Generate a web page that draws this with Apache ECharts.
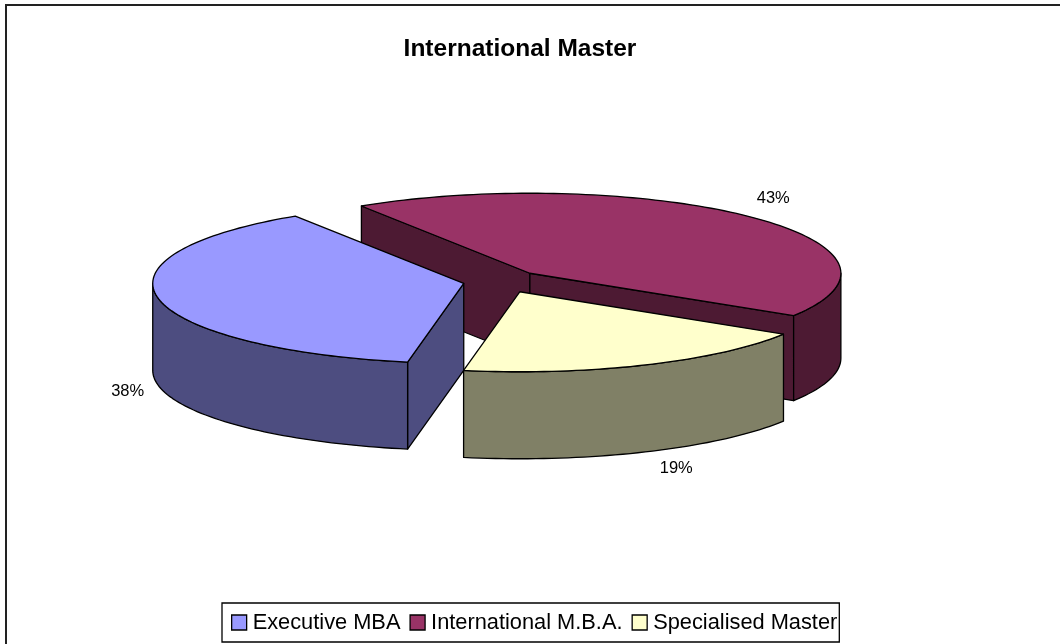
<!DOCTYPE html>
<html>
<head>
<meta charset="utf-8">
<style>html,body{margin:0;padding:0;background:#fff}#c{width:1060px;height:644px}</style>
<script src="https://cdn.jsdelivr.net/npm/echarts@6/dist/echarts.min.js"></script>
</head>
<body>
<div id="c"></div>
<script>
// ---- data ----
const categories = ['Executive MBA', 'International M.B.A.', 'Specialised Master'];
const shares = [38, 43, 19];
const chartTitle = 'International Master';

// ---- styles / layout ----
const topColors = ['#9999FF', '#993366', '#FFFFCC'];
const sideColors = ['#4D4D80', '#4D1A33', '#808066'];
const FONT = '"Liberation Sans", Arial, sans-serif';
const pie = {cx: 501.5, cy: 280.5, rx: 311, ry: 80, explodeX: 39, explodeY: 12.3, startDeg: 122.8};
const sliceDepth = [87, 85, 87];
const sliceNudge = [[0.5, 0.5], [1, 1.5], [2.5, 0]];
const labelNudge = [[-31, 5.5], [25, -18], [31, 17]];
const drawOrder = [1, 0, 2];

const total = shares.reduce((a, b) => a + b, 0);
const sweep = [];
(function () {
  // slices run clockwise from International M.B.A., then Specialised, then Executive
  let a = pie.startDeg;
  [1, 2, 0].forEach(i => {
    const s = shares[i] / total * 360;
    sweep[i] = [a, a - s];
    a -= s;
  });
})();

const rad = d => d * Math.PI / 180;

function sliceShapes(i) {
  const [a0, a1] = sweep[i];
  const depth = sliceDepth[i];
  const mid = rad((a0 + a1) / 2);
  const ax = pie.cx + pie.explodeX * Math.cos(mid) + sliceNudge[i][0];
  const ay = pie.cy - pie.explodeY * Math.sin(mid) + sliceNudge[i][1];
  const pt = (deg, dz) => [ax + pie.rx * Math.cos(rad(deg)), ay - pie.ry * Math.sin(rad(deg)) + (dz || 0)];
  const arc = (from, to, dz) => {
    const n = Math.max(2, Math.ceil(Math.abs(from - to) / 1.5));
    const out = [];
    for (let k = 0; k <= n; k++) out.push(pt(from + (to - from) * k / n, dz));
    return out;
  };
  const apex = [ax, ay];
  const midPt = pt((a0 + a1) / 2);
  const children = [];
  const poly = (points, fill) => children.push({
    type: 'polygon', shape: {points},
    style: {fill, stroke: '#000', lineWidth: 1.3, lineJoin: 'round'}
  });
  // radial walls that face the viewer
  [a0, a1].forEach(deg => {
    const p = pt(deg);
    const ex = p[0] - ax, ey = p[1] - ay;
    const crossMid = ex * (midPt[1] - ay) - ey * (midPt[0] - ax);
    if (crossMid * ex < 0) {
      poly([apex, p, [p[0], p[1] + depth], [ax, ay + depth]], sideColors[i]);
    }
  });
  // outer rim, only the front half of the ellipse is visible
  const from = Math.min(a0, 0), to = Math.max(a1, -180);
  if (from > to) {
    poly(arc(from, to, 0).concat(arc(to, from, depth)), sideColors[i]);
  }
  // top face
  poly([apex].concat(arc(a0, a1, 0)), topColors[i]);
  // percentage label
  const anchor = midPt.slice();
  if (Math.sin(mid) < 0) anchor[1] += depth;
  children.push({
    type: 'text',
    style: {
      x: anchor[0] + labelNudge[i][0], y: anchor[1] + labelNudge[i][1],
      text: Math.round(shares[i] / total * 100) + '%',
      font: '16.5px ' + FONT, fill: '#000', align: 'center', verticalAlign: 'middle'
    }
  });
  return {type: 'group', children};
}

const chart = echarts.init(document.getElementById('c'), null, {renderer: 'canvas'});
chart.setOption({
  animation: false,
  backgroundColor: '#fff',
  title: {
    text: chartTitle, left: 515, top: 44, textAlign: 'center', textVerticalAlign: 'middle',
    textStyle: {fontFamily: FONT, fontSize: 24.5, fontWeight: 'bold', color: '#000'}
  },
  legend: {
    data: categories, left: 222, top: 603, orient: 'horizontal',
    itemWidth: 15, itemHeight: 15, itemGap: 9, padding: [8.5, 2, 8.5, 9],
    icon: 'rect', borderColor: '#000', borderWidth: 1.3, selectedMode: false,
    itemStyle: {borderColor: '#000', borderWidth: 1.3},
    textStyle: {fontFamily: FONT, fontSize: 21.8, color: '#000', padding: [1, 0, 0, 1]}
  },
  graphic: [
    {type: 'rect', shape: {x: 6, y: 5, width: 1200, height: 800}, style: {fill: 'none', stroke: '#222', lineWidth: 2}, silent: true}
  ],
  series: drawOrder.map(i => ({
    type: 'custom',
    name: categories[i],
    coordinateSystem: 'none',
    itemStyle: {color: topColors[i]},
    data: [shares[i]],
    renderItem: () => sliceShapes(i)
  }))
});
</script>
</body>
</html>
